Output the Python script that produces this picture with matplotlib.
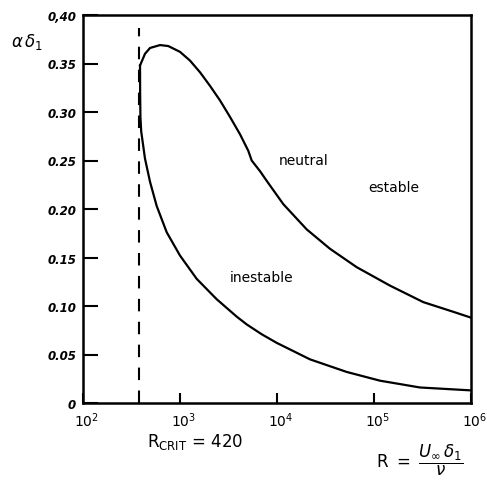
import matplotlib
matplotlib.use("Agg")
import matplotlib.pyplot as plt
import matplotlib.transforms as mtransforms
import numpy as np

# ---- data (x as log10 R) ----
log10_R_upper = [2.588, 2.639, 2.691, 2.794, 2.879, 3.000, 3.103, 3.206, 3.309,
                 3.412, 3.515, 3.619, 3.704, 3.739, 3.825, 3.894, 4.065, 4.306,
                 4.546, 4.822, 5.165, 5.508, 5.818, 6.000]
a_upper = [0.348, 0.360, 0.366, 0.369, 0.368, 0.362, 0.353, 0.341, 0.327,
           0.312, 0.295, 0.277, 0.260, 0.250, 0.239, 0.229, 0.205, 0.179,
           0.159, 0.140, 0.121, 0.104, 0.094, 0.088]

log10_R_lower = [2.588, 2.589, 2.592, 2.600, 2.639, 2.691, 2.760, 2.863, 3.000,
                 3.172, 3.378, 3.585, 3.688, 3.840, 3.997, 4.340, 4.719, 5.062,
                 5.474, 6.000]
a_lower = [0.348, 0.320, 0.295, 0.280, 0.252, 0.228, 0.203, 0.176, 0.152,
           0.128, 0.107, 0.089, 0.081, 0.071, 0.062, 0.045, 0.032, 0.023,
           0.016, 0.013]

R_crit_line = 375          # where the dashed line is drawn in the picture
R_crit_label = "420"

xticks = [1e2, 1e3, 1e4, 1e5, 1e6]
xticklabels = [r'$10^2$', r'$10^3$', r'$10^4$', r'$10^5$', r'$10^6$']
yticks = [0, 0.05, 0.10, 0.15, 0.20, 0.25, 0.30, 0.35, 0.40]
yticklabels = ['0', '0.05', '0.10', '0.15', '0.20', '0.25', '0.30', '0.35', '0,40']

R_upper = [10 ** v for v in log10_R_upper]
R_lower = [10 ** v for v in log10_R_lower]

# ---- figure ----
fig = plt.figure(figsize=(4.87, 4.85), dpi=100)
ax = fig.add_axes([83/487, 1 - 404/485, (471-83)/487, (404-16)/485])

ax.plot(R_upper, a_upper, color='black', lw=1.6, solid_joinstyle='round')
ax.plot(R_lower, a_lower, color='black', lw=1.6, solid_joinstyle='round')
ax.plot([R_crit_line, R_crit_line], [0, 0.387], color='black', lw=1.5,
        dashes=(6, 5))

ax.set_xscale('log')
ax.set_xlim(1e2, 1e6)
ax.set_ylim(0, 0.40)
ax.xaxis.set_minor_locator(matplotlib.ticker.NullLocator())
ax.set_xticks(xticks)
ax.set_xticklabels(xticklabels, fontsize=10, style='italic')
ax.set_yticks(yticks)
ax.set_yticklabels(yticklabels, fontsize=8.5, style='italic', fontweight='bold')

ax.tick_params(axis='x', direction='in', length=7, width=1.5, pad=5)
ax.tick_params(axis='y', direction='in', length=11, width=1.5, pad=5)
for s in ax.spines.values():
    s.set_linewidth(1.8)

# shift x tick labels slightly to the right, as in the reference
offset = mtransforms.ScaledTranslation(4/100, 0, fig.dpi_scale_trans)
for lab in ax.get_xticklabels():
    lab.set_transform(lab.get_transform() + offset)

ax.text(10**4.27, 0.251, 'neutral', fontsize=10, ha='center', va='center')
ax.text(10**5.2, 0.223, 'estable', fontsize=10, ha='center', va='center')
ax.text(10**3.84, 0.130, 'inestable', fontsize=10, ha='center', va='center')

fig.text(27/487, 1 - 42/485, r'$\alpha\,\delta_1$', fontsize=12,
         ha='center', va='center')
fig.text(195/487, 1 - 442/485, r'$\mathrm{R_{CRIT}}$' + ' = ' + R_crit_label,
         fontsize=12, ha='center', va='center')
fig.text(420/487, 1 - 460/485, r'$\mathrm{R}\ =\ \dfrac{U_\infty\,\delta_1}{\nu}$',
         fontsize=12, ha='center', va='center')

fig.savefig('out.png', dpi=100)
